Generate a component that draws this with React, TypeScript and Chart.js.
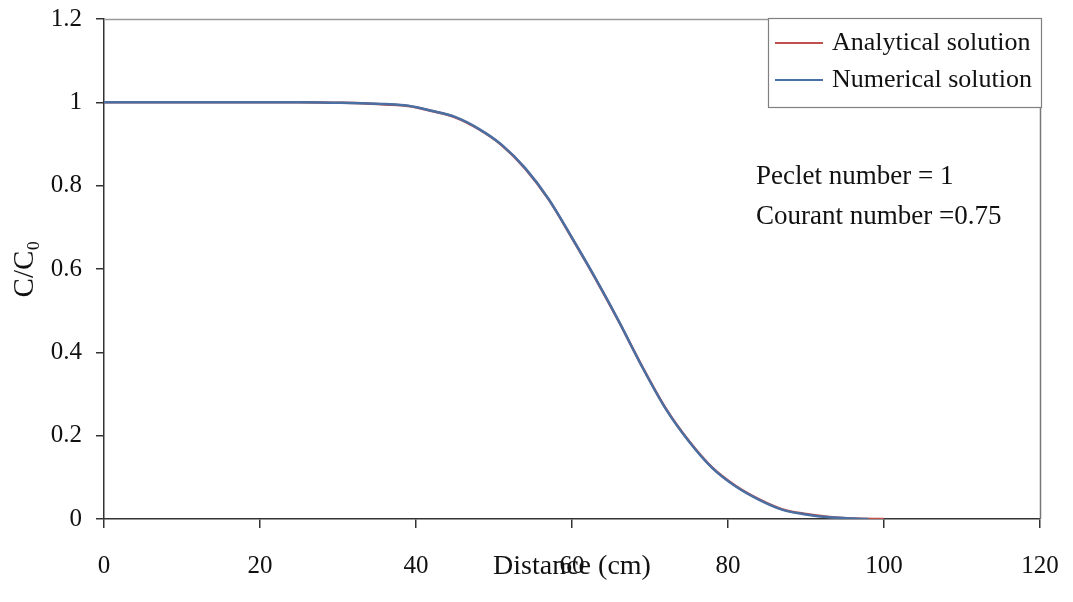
import React, { useEffect, useRef } from "react";
import { Chart, registerables } from "chart.js";

Chart.register(...registerables);

// ---- Data ----
const numericalDistance = [0, 5, 10, 15, 20, 25, 30, 33, 36, 39, 42, 45, 48, 51, 54, 57, 60, 63, 66, 69, 72, 75, 78, 81, 84, 87, 90, 93, 96, 98];
const numericalValues = [1, 1, 1, 1, 1, 1, 0.999, 0.998, 0.996, 0.992, 0.98, 0.965, 0.937, 0.898, 0.842, 0.768, 0.675, 0.578, 0.475, 0.365, 0.265, 0.186, 0.122, 0.078, 0.046, 0.022, 0.011, 0.004, 0.001, 0];

const analyticalDistance = [0, 5, 10, 15, 20, 25, 30, 33, 36, 39, 42, 45, 48, 51, 54, 57, 60, 63, 66, 69, 72, 75, 78, 81, 84, 87, 90, 93, 96, 100];
const analyticalValues = [1, 1, 1, 1, 1, 1, 0.999, 0.998, 0.995, 0.991, 0.979, 0.964, 0.936, 0.897, 0.841, 0.767, 0.674, 0.577, 0.474, 0.366, 0.266, 0.187, 0.123, 0.079, 0.047, 0.023, 0.012, 0.005, 0.001, 0];

const xTickValues = [0, 20, 40, 60, 80, 100, 120];
const yTickValues = [0, 0.2, 0.4, 0.6, 0.8, 1, 1.2];

const seriesLabels = ["Analytical solution", "Numerical solution"];
const seriesColors = ["#c0504d", "#4a6fa3"];
const annotationLines = ["Peclet number = 1", "Courant number =0.75"];
const xTitle = "Distance (cm)";
const yTitle = "C/C\u2080";

const SERIF = "'Liberation Serif', 'Times New Roman', 'DejaVu Serif', serif";

const zeroPadding = (scale: any) => {
  scale.paddingTop = 0;
  scale.paddingBottom = 0;
  scale.paddingLeft = 0;
  scale.paddingRight = 0;
};

const framePlugin = {
  id: "frameLegendNotes",
  afterDraw(chart: any) {
    const { ctx, chartArea, scales } = chart;
    ctx.save();
    // top and right frame
    ctx.lineWidth = 1.5;
    ctx.strokeStyle = "#9a9a9a";
    ctx.beginPath();
    ctx.moveTo(chartArea.left, chartArea.top + 0.5);
    ctx.lineTo(chartArea.right, chartArea.top + 0.5);
    ctx.stroke();
    ctx.strokeStyle = "#777";
    ctx.beginPath();
    ctx.moveTo(chartArea.right + 0.5, chartArea.top);
    ctx.lineTo(chartArea.right + 0.5, chartArea.bottom);
    ctx.stroke();

    // legend box (inside plot, top right)
    const boxW = 273;
    const boxH = 89;
    const bx = chartArea.right + 1 - boxW;
    const by = chartArea.top - 1;
    ctx.fillStyle = "#ffffff";
    ctx.fillRect(bx, by, boxW, boxH);
    ctx.strokeStyle = "#808080";
    ctx.lineWidth = 1.2;
    ctx.strokeRect(bx + 0.5, by + 0.5, boxW, boxH);
    ctx.font = `26px ${SERIF}`;
    ctx.textBaseline = "middle";
    ctx.textAlign = "left";
    chart.data.datasets.forEach((ds: any, i: number) => {
      const ly = by + 25 + i * 37;
      ctx.strokeStyle = ds.borderColor;
      ctx.lineWidth = 2;
      ctx.beginPath();
      ctx.moveTo(bx + 7, ly);
      ctx.lineTo(bx + 55, ly);
      ctx.stroke();
      ctx.fillStyle = "#111";
      ctx.fillText(ds.label, bx + 64, ly, boxW - 68);
    });

    // annotation text
    const ax = scales.x.getPixelForValue(83.6);
    const ay0 = scales.y.getPixelForValue(0.821);
    ctx.font = `27px ${SERIF}`;
    ctx.fillStyle = "#111";
    annotationLines.forEach((t, i) => {
      ctx.fillText(t, ax, ay0 + i * 40);
    });
    ctx.restore();
  },
};

export default function App() {
  const canvasRef = useRef<HTMLCanvasElement | null>(null);

  useEffect(() => {
    if (!canvasRef.current) return;
    const chart = new Chart(canvasRef.current, {
      type: "line",
      data: {
        datasets: [
          {
            label: seriesLabels[0],
            data: analyticalDistance.map((x, i) => ({ x, y: analyticalValues[i] })),
            borderColor: seriesColors[0],
            borderWidth: 2.5,
            pointRadius: 0,
            cubicInterpolationMode: "monotone",
            fill: false,
            order: 2,
          },
          {
            label: seriesLabels[1],
            data: numericalDistance.map((x, i) => ({ x, y: numericalValues[i] })),
            borderColor: seriesColors[1],
            borderWidth: 2.5,
            pointRadius: 0,
            cubicInterpolationMode: "monotone",
            fill: false,
            order: 1,
          },
        ],
      },
      options: {
        responsive: false,
        animation: false,
        layout: { padding: { left: 0, right: 33, top: 19, bottom: 0 } },
        plugins: {
          legend: { display: false },
          tooltip: { enabled: false },
        },
        scales: {
          x: {
            type: "linear",
            min: 0,
            max: 120,
            afterBuildTicks: (scale: any) => {
              scale.ticks = xTickValues.map((v) => ({ value: v }));
            },
            afterFit: (scale: any) => {
              scale.height = 83;
              zeroPadding(scale);
            },
            grid: {
              drawOnChartArea: false,
              drawTicks: true,
              tickLength: 9,
              color: "#333",
              lineWidth: 1.5,
            },
            border: { display: true, color: "#333", width: 1.5 },
            ticks: {
              padding: 23,
              color: "#111",
              font: { family: SERIF, size: 25 },
              maxRotation: 0,
            },
            title: {
              display: true,
              text: xTitle,
              color: "#111",
              font: { family: SERIF, size: 28 },
              padding: { top: 0, bottom: 19 },
            },
          },
          y: {
            type: "linear",
            min: 0,
            max: 1.2,
            afterBuildTicks: (scale: any) => {
              scale.ticks = yTickValues.map((v) => ({ value: v }));
            },
            afterFit: (scale: any) => {
              scale.width = 104;
              zeroPadding(scale);
            },
            grid: {
              drawOnChartArea: false,
              drawTicks: true,
              tickLength: 8,
              color: "#333",
              lineWidth: 1.5,
            },
            border: { display: true, color: "#333", width: 1.5 },
            ticks: {
              padding: 14,
              color: "#111",
              font: { family: SERIF, size: 25 },
              callback: (v: any) => String(Math.round(Number(v) * 10) / 10),
            },
            title: {
              display: true,
              text: yTitle,
              color: "#111",
              font: { family: SERIF, size: 29 },
              padding: { top: 8, bottom: 0 },
            },
          },
        },
      },
      plugins: [framePlugin],
    });
    return () => chart.destroy();
  }, []);

  return (
    <div style={{ position: "absolute", left: 0, top: 0, width: 1073, height: 602, background: "#fff" }}>
      <canvas ref={canvasRef} width={1073} height={602} style={{ display: "block" }} />
    </div>
  );
}
